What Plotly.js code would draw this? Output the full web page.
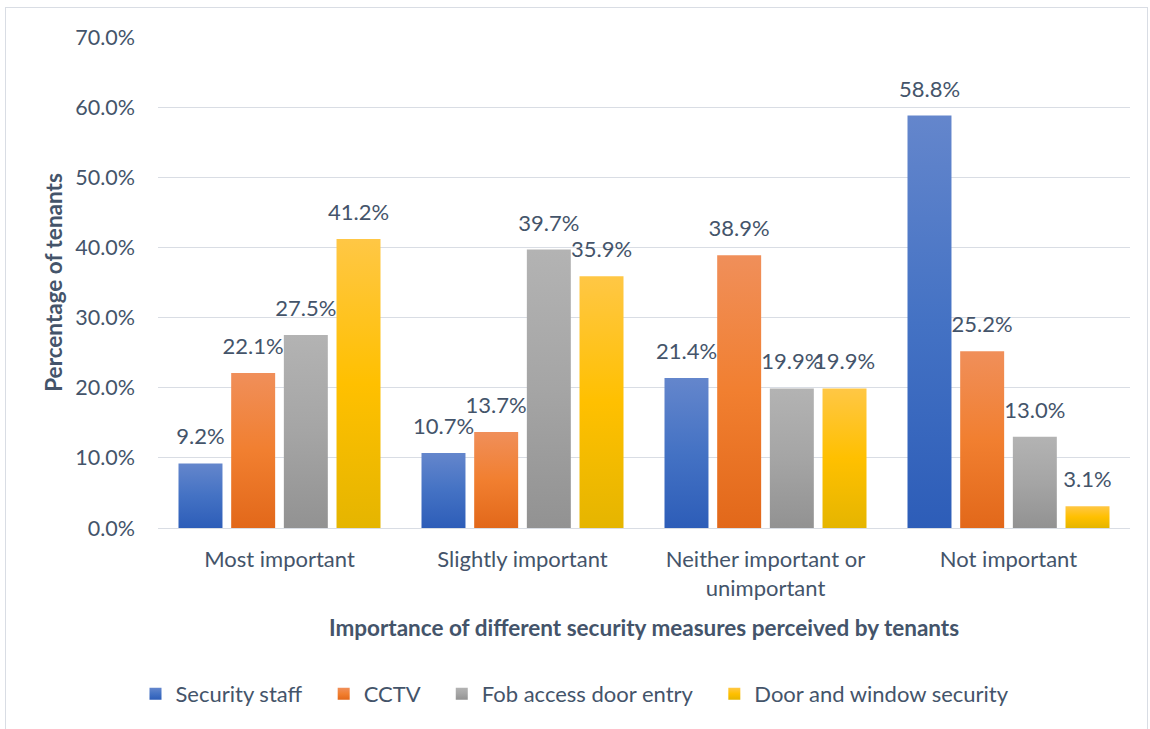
<!DOCTYPE html>
<html>
<head>
<meta charset="utf-8">
<script src="https://cdn.plot.ly/plotly-3.0.1.min.js"></script>
<style>
  html, body { margin: 0; padding: 0; background: #fff; }
  #frame { position: absolute; left: 5px; top: 7px; width: 1143px; height: 722px; border: 1px solid #d9dde4; border-bottom: none; box-sizing: border-box; }
  #chart { position: absolute; left: 0; top: 0; width: 1150px; height: 729px; }
</style>
</head>
<body>
<div id="frame"></div>
<div id="chart"></div>
<svg width="0" height="0" style="position:absolute">
  <defs>
    <linearGradient id="g0" x1="0" y1="0" x2="0" y2="1"><stop offset="0" stop-color="#6486CC"/><stop offset="0.5" stop-color="#4472C4"/><stop offset="1" stop-color="#2D5DB8"/></linearGradient>
    <linearGradient id="g1" x1="0" y1="0" x2="0" y2="1"><stop offset="0" stop-color="#F08F5A"/><stop offset="0.5" stop-color="#F17F30"/><stop offset="1" stop-color="#E2681A"/></linearGradient>
    <linearGradient id="g2" x1="0" y1="0" x2="0" y2="1"><stop offset="0" stop-color="#B3B3B3"/><stop offset="0.5" stop-color="#A5A5A5"/><stop offset="1" stop-color="#929292"/></linearGradient>
    <linearGradient id="g3" x1="0" y1="0" x2="0" y2="1"><stop offset="0" stop-color="#FFC745"/><stop offset="0.5" stop-color="#FFC000"/><stop offset="1" stop-color="#E5B500"/></linearGradient>
  </defs>
</svg>
<script>
const categories = ["Most important", "Slightly important", "Neither important or<br>unimportant", "Not important"];
const seriesNames = ["Security staff", "CCTV", "Fob access door entry", "Door and window security"];
const securityStaff = [9.2, 10.7, 21.4, 58.8];
const cctv = [22.1, 13.7, 38.9, 25.2];
const fobAccess = [27.5, 39.7, 19.9, 13.0];
const doorWindow = [41.2, 35.9, 19.9, 3.1];
const colors = ["#4472C4", "#ED7D31", "#A5A5A5", "#FFC000"];
const yTickVals = [0, 10, 20, 30, 40, 50, 60, 70];
const yTickText = ["0.0%", "10.0%", "20.0%", "30.0%", "40.0%", "50.0%", "60.0%", "70.0%"];

const textColor = "#44546A";
const fontFam = "Lato, 'Open Sans', sans-serif";
const allSeries = [securityStaff, cctv, fobAccess, doorWindow];
const legendPad = "\u00a0\u00a0\u00a0";

const barTraces = allSeries.map((vals, i) => ({
  type: "bar",
  name: i < 3 ? seriesNames[i] + legendPad : seriesNames[i],
  x: categories,
  y: vals,
  marker: { color: colors[i] },
  hoverinfo: "skip"
}));

const labelTraces = allSeries.map((vals, i) => ({
  type: "scatter",
  mode: "markers+text",
  showlegend: false,
  x: categories,
  y: vals,
  marker: { size: 20, opacity: 0, color: colors[i] },
  text: vals.map(v => v.toFixed(1) + "%"),
  textposition: "top center",
  cliponaxis: false,
  textfont: { family: fontFam, size: 22, color: textColor },
  hoverinfo: "skip"
}));

const layout = {
  width: 1150,
  height: 729,
  paper_bgcolor: "rgba(0,0,0,0)",
  plot_bgcolor: "rgba(0,0,0,0)",
  margin: { l: 158, r: 20, t: 37, b: 201 },
  barmode: "group",
  bargap: 0.133,
  bargroupgap: 0.165,
  scattermode: "group",
  scattergap: 0.133,
  font: { family: fontFam, color: textColor, size: 20 },
  xaxis: {
    automargin: false,
    showgrid: false,
    showline: true,
    linecolor: "#d9dde4",
    linewidth: 1,
    ticks: "",
    ticklabelstandoff: 12,
    tickfont: { family: fontFam, size: 22, color: textColor },
    title: { text: "<b>Importance of different security measures perceived by tenants</b>", font: { family: fontFam, size: 22.5, color: textColor }, standoff: 20 }
  },
  yaxis: {
    automargin: false,
    range: [0, 70],
    tickvals: yTickVals,
    ticktext: yTickText,
    showgrid: true,
    gridcolor: "#d9dde4",
    gridwidth: 1,
    zeroline: false,
    showline: false,
    ticks: "",
    ticklen: 0,
    ticklabelstandoff: 22,
    tickfont: { family: fontFam, size: 21.5, color: textColor },
    title: { text: "<b>Percentage of tenants</b>", font: { family: fontFam, size: 22.5, color: textColor }, standoff: 6 }
  },
  legend: {
    orientation: "h",
    x: 0.5,
    xanchor: "center",
    xref: "container",
    yref: "container",
    y: 0.048,
    yanchor: "middle",
    font: { family: fontFam, size: 22, color: textColor },
    itemwidth: 30,
    traceorder: "normal"
  },
  showlegend: true
};

function applyGradients() {
  const gd = document.getElementById("chart");
  gd.querySelectorAll(".barlayer .trace.bars").forEach((tr, i) => {
    tr.querySelectorAll("path").forEach(p => { p.style.fill = "url(#g" + i + ")"; });
  });
  gd.querySelectorAll(".legend .traces").forEach((tr, i) => {
    tr.querySelectorAll(".legendpoints path").forEach(p => { p.style.fill = "url(#g" + i + ")"; });
  });
}

Plotly.newPlot("chart", barTraces.concat(labelTraces), layout, { displayModeBar: false, staticPlot: true }).then(applyGradients);
</script>
</body>
</html>
